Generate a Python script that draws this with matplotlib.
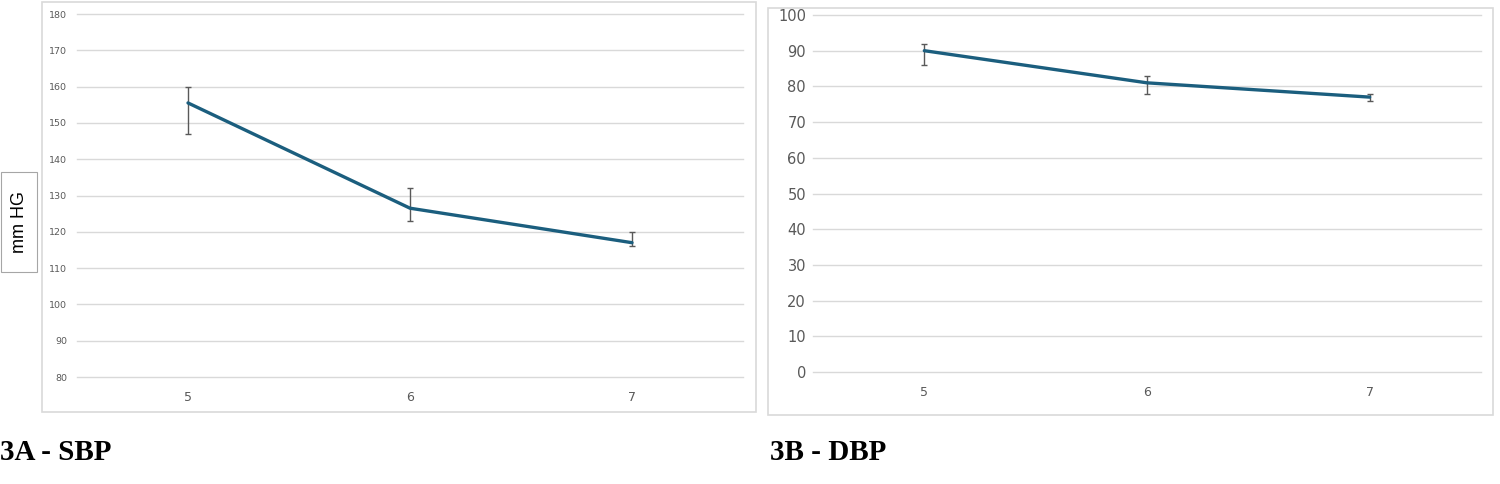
import matplotlib.pyplot as plt
from matplotlib.patches import Rectangle

# ---------------------------------------------------------------- data ---
weeks = [5, 6, 7]

sbp_mean = [155.5, 126.5, 117.0]
sbp_err_lo = [8.5, 3.5, 1.0]
sbp_err_hi = [4.5, 5.5, 3.0]

dbp_mean = [90.0, 81.0, 77.0]
dbp_err_lo = [4.0, 3.0, 1.0]
dbp_err_hi = [2.0, 2.0, 1.0]

LINE = "#1B5E7E"
ERR = "#595959"
GRID = "#D9D9D9"
TICK = "#595959"

W, H = 1500, 484
fig = plt.figure(figsize=(W / 100, H / 100), dpi=100)


def px_axes(x0, y0, x1, y1):
    """Axes from pixel box (top-left origin)."""
    return fig.add_axes([x0 / W, 1 - y1 / H, (x1 - x0) / W, (y1 - y0) / H])


def px_frame(x0, y0, x1, y1, color=GRID, lw=1.2):
    fig.patches.append(Rectangle((x0 / W, 1 - y1 / H), (x1 - x0) / W, (y1 - y0) / H,
                                 transform=fig.transFigure, fill=False,
                                 edgecolor=color, linewidth=lw))


def panel(ax, mean, lo, hi, ylim, ystep, yfs, xfs, ypad, xpad):
    ax.errorbar(weeks, mean, yerr=[lo, hi], fmt="none", ecolor=ERR,
                elinewidth=1.0, capsize=2.5, capthick=1.0, zorder=3)
    ax.plot(weeks, mean, color=LINE, lw=2.4, solid_capstyle="round", zorder=4)
    ax.set_xlim(4.5, 7.5)
    ax.set_ylim(*ylim)
    ax.set_yticks(range(ylim[0], ylim[1] + 1, ystep))
    ax.set_xticks(weeks)
    ax.grid(axis="y", color=GRID, lw=1.0)
    for gl in ax.get_ygridlines():
        gl.set_clip_on(False)
    ax.set_axisbelow(True)
    for s in ax.spines.values():
        s.set_visible(False)
    ax.tick_params(axis="both", length=0, colors=TICK)
    ax.tick_params(axis="y", labelsize=yfs, pad=ypad)
    ax.tick_params(axis="x", labelsize=xfs, pad=xpad)


# 3A - SBP
px_frame(42, 2, 756, 412)
ax1 = px_axes(77, 14, 743, 377)
panel(ax1, sbp_mean, sbp_err_lo, sbp_err_hi, (80, 180), 10, 6.8, 9, 7, 10)

# 3B - DBP
px_frame(768, 8, 1493, 415)
ax2 = px_axes(813, 15, 1481, 372)
panel(ax2, dbp_mean, dbp_err_lo, dbp_err_hi, (0, 100), 10, 10.5, 9, 5, 10)

# y label box
px_frame(1, 172, 37, 272, color="#A6A6A6", lw=0.8)
fig.text(19 / W, 1 - 222 / H, "mm HG", rotation=90, ha="center", va="center",
         fontsize=13, family="Liberation Sans", color="black")

# captions
fig.text(0 / W, 1 - 452 / H, "3A - SBP", ha="left", va="center", fontsize=21,
         fontweight="bold", family="Liberation Serif")
fig.text(770 / W, 1 - 452 / H, "3B - DBP", ha="left", va="center", fontsize=21,
         fontweight="bold", family="Liberation Serif")

fig.savefig("out.png", dpi=100)
